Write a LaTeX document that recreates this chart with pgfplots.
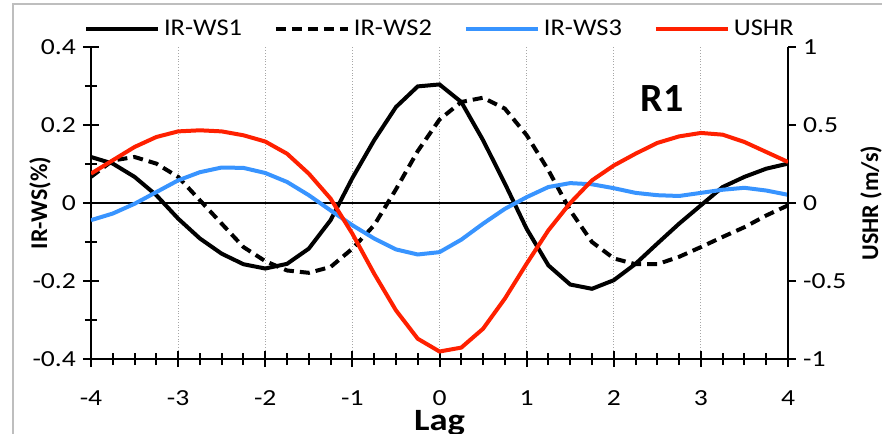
\documentclass[border=0pt]{standalone}
\usepackage{pgfplots}
\usepackage{pgfplotstable}
\pgfplotsset{compat=1.18}
\usepackage{fontspec}
\setmainfont{Carlito}
\newfontfamily\tickfont{Carlito}[FakeStretch=1.2]
\newfontfamily\widefont{Carlito}[FakeStretch=1.1]
\newfontfamily\lagfont{Carlito}[FakeStretch=1.18]
\definecolor{wsblue}{RGB}{56,148,255}
\definecolor{hrred}{RGB}{255,32,0}
\definecolor{framegray}{RGB}{190,190,190}

\pgfplotstableread{
x      w1      w2      w3      hr
-4     0.118   0.067  -0.044   0.188
-3.75  0.101   0.109  -0.027   0.274
-3.5   0.067   0.118  -0.002   0.359
-3.25  0.020   0.101   0.028   0.423
-3    -0.040   0.067   0.058   0.459
-2.75 -0.091   0.007   0.079   0.466
-2.5  -0.130  -0.053   0.091   0.459
-2.25 -0.157  -0.113   0.090   0.434
-2    -0.168  -0.149   0.077   0.394
-1.75 -0.156  -0.173   0.054   0.316
-1.5  -0.117  -0.179   0.020   0.188
-1.25 -0.044  -0.164  -0.019   0.028
-1     0.064  -0.117  -0.057  -0.197
-0.75  0.161  -0.057  -0.091  -0.453
-0.5   0.246   0.035  -0.119  -0.688
-0.25  0.299   0.133  -0.132  -0.870
0      0.304   0.214  -0.126  -0.952
0.25   0.259   0.259  -0.094  -0.927
0.5    0.161   0.270  -0.053  -0.806
0.75   0.050   0.242  -0.015  -0.613
1     -0.066   0.174   0.015  -0.389
1.25  -0.160   0.084   0.041  -0.175
1.5   -0.209  -0.019   0.051   0.000
1.75  -0.220  -0.100   0.048   0.145
2     -0.198  -0.142   0.038   0.240
2.25  -0.156  -0.157   0.026   0.316
2.5   -0.104  -0.157   0.020   0.385
2.75  -0.053  -0.138   0.018   0.427
3     -0.006  -0.113   0.026   0.449
3.25   0.041  -0.087   0.034   0.438
3.5    0.067  -0.062   0.039   0.391
3.75   0.088  -0.032   0.032   0.327
4      0.101  -0.006   0.021   0.263
}\datatable

\begin{document}
\begin{tikzpicture}
\pgfplotsset{
  common/.style={
    scale only axis, width=348.5pt, height=156pt,
    at={(0,0)}, anchor=south west,
    xmin=-4, xmax=4,
    every tick/.style={black, line width=1pt},
    axis line style={line width=1.3pt, -},
    ticklabel style={font=\tickfont\fontsize{11.5}{13}\selectfont},
  },
}
\begin{axis}[common,
  axis x line*=bottom, axis y line*=left,
  ymin=-0.4, ymax=0.4,
  tick align=center,
  xtick={-4,-3,-2,-1,0,1,2,3,4},
  xticklabels={-4,-3,-2,-1,0,1,2,3,4},
  xticklabel style={inner sep=0pt, yshift=-11.5pt},
  minor x tick num=3,
  ytick={-0.4,-0.2,0,0.2,0.4},
  yticklabels={-0.4,-0.2,0,0.2,0.4},
  minor y tick num=1,
  major tick length=8pt, minor tick length=6pt,
  xmajorgrids,
  major grid style={densely dotted, gray!70, line width=0.4pt},
  ylabel={\bfseries IR-WS(\%)},
  every axis y label/.style={at={(axis description cs:-0.073,0.5)}, rotate=90, anchor=center, font=\fontsize{12}{14}\selectfont},
  xlabel={\bfseries Lag},
  every axis x label/.style={at={(axis description cs:0.5,0)}, anchor=base, inner sep=0pt, yshift=-35.5pt, font=\lagfont\fontsize{15.5}{18}\selectfont},
  legend columns=4,
  legend style={at={(axis description cs:0.502,1.058)}, anchor=center, draw=none, fill=none,
    font=\widefont\fontsize{12}{14}\selectfont,
    /tikz/every even column/.append style={column sep=14pt}},
  legend image code/.code={\draw[#1] (0pt,0pt) -- (36pt,0pt);},
]
\draw[black, line width=0.9pt] (axis cs:-4,0) -- (axis cs:4,0);
\addplot[black, line width=2pt] table[x=x, y=w1] {\datatable};
\addlegendentry{IR-WS1}
\addplot[black, line width=2pt, dash pattern=on 5pt off 3pt] table[x=x, y=w2] {\datatable};
\addlegendentry{IR-WS2}
\addplot[wsblue, line width=2pt] table[x=x, y=w3] {\datatable};
\addlegendentry{IR-WS3}
\addlegendimage{hrred, line width=2pt}
\addlegendentry{USHR}
\node[font=\bfseries\fontsize{20}{24}\selectfont] at (axis cs:2.556,0.267) {R1};
\end{axis}
\begin{axis}[common,
  axis x line=none, axis y line*=right,
  ymin=-1, ymax=1,
  tick align=outside,
  major tick length=4pt,
  ytick={-1,-0.5,0,0.5,1},
  yticklabels={-1,-0.5,0,0.5,1},
  yticklabel style={anchor=west},
  ylabel={\bfseries USHR (m/s)},
  every axis y label/.style={at={(axis description cs:1.119,0.5)}, rotate=90, anchor=center, font=\fontsize{12}{14}\selectfont},
]
\addplot[hrred, line width=2pt] table[x=x, y=hr] {\datatable};
\end{axis}
\draw[framegray, line width=0.8pt] (-39pt,-45pt) -- (-39pt,177.5pt) -- (400pt,177.5pt);
\pgfresetboundingbox
\useasboundingbox (-45.5pt,-37pt) rectangle (395.5pt,179.5pt);
\end{tikzpicture}
\end{document}
